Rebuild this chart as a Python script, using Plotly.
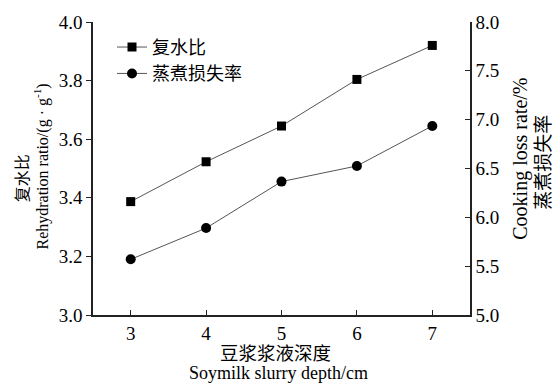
import plotly.graph_objects as go

depth = [3, 4, 5, 6, 7]
rehydration = [3.387, 3.523, 3.645, 3.804, 3.92]
cooking_loss = [5.57, 5.89, 6.366, 6.526, 6.936]

x_ticks = [3, 4, 5, 6, 7]
y1_ticks = [3.0, 3.2, 3.4, 3.6, 3.8, 4.0]
y2_ticks = [5.0, 5.5, 6.0, 6.5, 7.0, 7.5, 8.0]

FONT = "Liberation Serif, Noto Sans CJK SC"
W, H = 559, 383
L, R, T, B = 93, 89, 15, 68
pw, ph = W - L - R, H - T - B

def px(x):
    return (x - L) / pw

def py(y):
    return (H - B - y) / ph

fig = go.Figure()
fig.add_trace(go.Scatter(
    x=depth, y=rehydration, name="复水比", mode="lines+markers",
    line=dict(color="#555", width=1),
    marker=dict(symbol="square", size=9, color="black"),
))
fig.add_trace(go.Scatter(
    x=depth, y=cooking_loss, name="蒸煮损失率", mode="lines+markers", yaxis="y2",
    line=dict(color="#555", width=1),
    marker=dict(symbol="circle", size=10, color="black"),
))

axis_common = dict(showgrid=False, zeroline=False, showline=True, linecolor="#222",
                   linewidth=1.5, ticklen=5, tickcolor="#222", tickwidth=1.2,
                   tickfont=dict(family=FONT, size=19, color="black"))

fig.update_layout(
    width=W, height=H,
    margin=dict(l=L, r=R, t=T, b=B),
    paper_bgcolor="white", plot_bgcolor="white",
    font=dict(family=FONT, color="black"),
    xaxis=dict(range=[2.5, 7.5], tickvals=x_ticks, ticks="inside", **axis_common),
    yaxis=dict(range=[3.0, 4.0], tickvals=y1_ticks, ticktext=[f"{v:.1f}" for v in y1_ticks],
               ticks="outside", **axis_common),
    yaxis2=dict(range=[5.0, 8.0], tickvals=y2_ticks, ticktext=[f"{v:.1f}" for v in y2_ticks],
                overlaying="y", side="right", ticks="inside", **axis_common),
    showlegend=True,
    legend=dict(x=px(112), y=py(22), xanchor="left", yanchor="top",
                bgcolor="rgba(0,0,0,0)", font=dict(family=FONT, size=18, color="black"),
                tracegroupgap=0, itemwidth=30),
)

ann = [
    dict(text="复水比", x=px(22), y=py(175), textangle=-90, size=16),
    dict(text="Rehydration ratio/(g · g<sup>-1</sup>)", x=px(42), y=py(163), textangle=-90, size=16),
    dict(text="Cooking loss rate/%", x=px(521), y=py(155), textangle=-90, size=20),
    dict(text="蒸煮损失率", x=px(544), y=py(159), textangle=-90, size=19),
    dict(text="豆浆浆液深度", x=px(275), y=py(355), textangle=0, size=18.5),
    dict(text="Soymilk slurry depth/cm", x=px(278), y=py(374), textangle=0, size=18),
]
for a in ann:
    fig.add_annotation(text=a["text"], x=a["x"], y=a["y"], xref="paper", yref="paper",
                       showarrow=False, textangle=a["textangle"], xanchor="center", yanchor="middle",
                       font=dict(family=FONT, size=a["size"], color="black"))

fig.write_html("out.html")
